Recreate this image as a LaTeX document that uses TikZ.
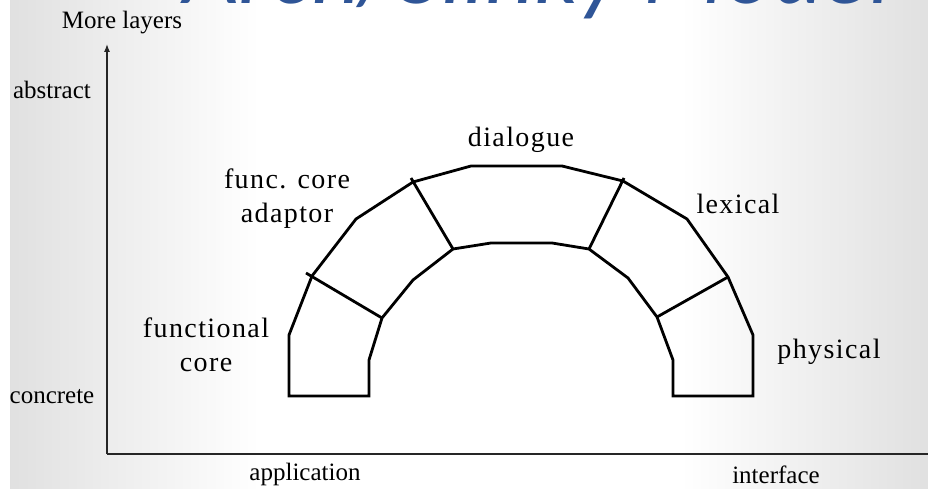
\documentclass[tikz,border=0pt]{standalone}
\usepackage{fontspec}
\setmainfont{Liberation Serif}
\newfontfamily\titlefont{Carlito}
\usetikzlibrary{arrows.meta}
\definecolor{titleblue}{RGB}{47,85,151}
\begin{document}
\begin{tikzpicture}[x=1pt,y=-1pt,
  archline/.style={line width=2.8pt, line join=miter, black},
  axisline/.style={line width=1.3pt, black!85},
  axlabel/.style={font=\fontsize{25}{28}\selectfont, inner sep=0pt},
  archlabel/.style={font=\fontsize{28}{34}\selectfont\addfontfeatures{LetterSpace=5}, inner sep=0pt, align=center},
]
\useasboundingbox (0,0) rectangle (928,489);
\fill[white] (0,0) rectangle (928,489);
\shade[left color=black!12, right color=white] (10,0) rectangle (260,489);
\shade[left color=white, right color=black!12] (680,0) rectangle (928,489);

% title (cut off at top)
\begin{scope}
\clip (0,0) rectangle (928,489);
\node[anchor=base west, inner sep=0pt, text=titleblue,
      font=\titlefont\itshape\fontsize{96}{96}\selectfont] (title) at (183,4) {Arch/Slinky Model};
\end{scope}

% axes
\coordinate (origin) at (107,454);
\coordinate (ytop) at (107,44);
\coordinate (xend) at (928,454);
\draw[axisline, -{Latex[length=8pt,width=6pt]}] (origin) -- (ytop);
\draw[axisline] (origin) -- (xend);

% axis labels
\node[axlabel] (more) at (122,23) {More layers};
\node[axlabel] (abstract) at (52,90) {abstract};
\node[axlabel] (concrete) at (52,397) {concrete};
\node[axlabel] (application) at (305,474) {application};
\node[axlabel] (interface) at (776,475) {interface};

% arch outline
\coordinate (o1) at (289,396);
\coordinate (o2) at (289,335);
\coordinate (o3) at (312,276);
\coordinate (o4) at (356,219);
\coordinate (o5) at (413,182);
\coordinate (o6) at (471,166);
\coordinate (o7) at (562,166);
\coordinate (o8) at (623,181);
\coordinate (o9) at (687,219);
\coordinate (o10) at (728,277);
\coordinate (o11) at (753,335);
\coordinate (o12) at (753,396);
\coordinate (i1) at (673,396);
\coordinate (i2) at (673,360);
\coordinate (i3) at (657,317);
\coordinate (i4) at (628,278);
\coordinate (i5) at (589,249);
\coordinate (i6) at (552,243);
\coordinate (i7) at (491,243);
\coordinate (i8) at (453,249);
\coordinate (i9) at (413,280);
\coordinate (i10) at (382,318);
\coordinate (i11) at (369,360);
\coordinate (i12) at (369,396);
\draw[archline] (o1) -- (o2) -- (o3) -- (o4) -- (o5) -- (o6) -- (o7) -- (o8) -- (o9)
  -- (o10) -- (o11) -- (o12) -- (i1) -- (i2) -- (i3) -- (i4) -- (i5) -- (i6) -- (i7)
  -- (i8) -- (i9) -- (i10) -- (i11) -- (i12) -- cycle;

% dividers
\coordinate (d1) at (306,273);
\coordinate (d2) at (411,178);
\coordinate (d3) at (624,178);
\draw[archline] (d1) -- (i10);
\draw[archline] (d2) -- (i8);
\draw[archline] (d3) -- (i5);
\draw[archline] (o10) -- (i3);

% arch labels
\node[archlabel] (dialogue) at (521,140) {dialogue};
\node[archlabel] (adaptor) at (287,199) {func. core\\adaptor};
\node[archlabel] (lexical) at (738,204) {lexical};
\node[archlabel] (functional) at (206,345) {functional\\core};
\node[archlabel] (physical) at (829,352) {physical};
\end{tikzpicture}
\end{document}
